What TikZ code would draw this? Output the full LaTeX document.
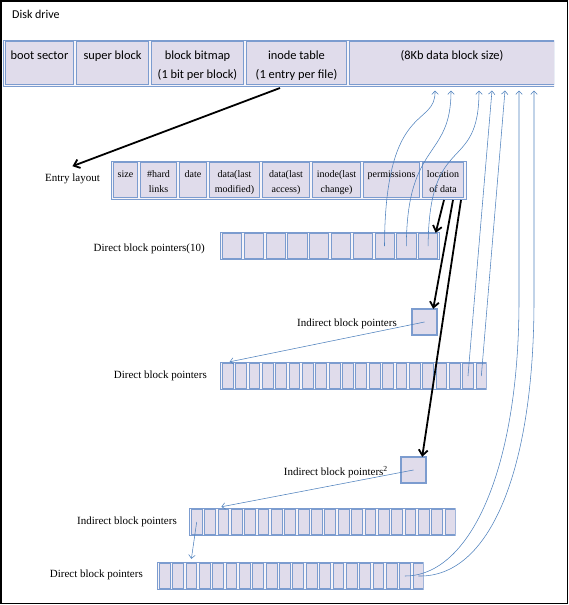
\documentclass[tikz,border=0pt]{standalone}
\usepackage{fontspec}
\setmainfont{Liberation Serif}
\newfontfamily\calfont{Carlito}
\usetikzlibrary{arrows.meta,calc}
\definecolor{lav}{HTML}{E0DCEB}
\definecolor{bcol}{HTML}{7C9CCF}
\definecolor{lcol}{HTML}{4F81BD}
\begin{document}
\begin{tikzpicture}[x=1pt,y=-1pt,
 cellbox/.style={rectangle,draw=bcol,fill=lav,line width=0.7pt,inner sep=0pt,outer sep=0pt},
 framebox/.style={draw=bcol,line width=0.7pt,fill=lav!30},
 toptxt/.style={font=\calfont\fontsize{12.4}{15}\selectfont,inner sep=0pt,anchor=base},
 etxt/.style={font=\fontsize{10}{12}\selectfont,inner sep=0pt,anchor=base},
 lbl/.style={font=\fontsize{11}{13}\selectfont,inner sep=0pt,anchor=base east},
 thinarr/.style={draw=lcol,line width=0.55pt,-{Straight Barb[length=3.5pt,width=6.5pt]}},
 blkarr/.style={draw=black,line width=1.8pt,-{Straight Barb[length=5.5pt,width=9pt]}}
]
\useasboundingbox (0,0) rectangle (569,605);
\draw[line width=1.4pt] (1,1) rectangle (567.3,603.3);

\node[anchor=base west,font=\calfont\fontsize{12}{14}\selectfont,inner sep=0pt] (dd) at (12,18.5) {Disk drive};

% top bar
\begin{scope}
\clip (0,30) rectangle (554,95);
\draw[framebox] (3.5,40) rectangle (600,86);
\foreach \a/\b/\n in {4/75/tb1,75/150/tb2,150/245/tb3,245/348/tb4,348/556/tb5}
  \node[cellbox,minimum width={(\b-\a-2.6)*1pt},minimum height=43.4pt] (\n) at ({(\a+\b)/2},63) {};
\end{scope}
\node[toptxt] (t1) at (39.5,59) {boot sector};
\node[toptxt] (t2) at (112.5,59) {super block};
\node[toptxt] (t3a) at (197.5,59) {block bitmap};
\node[toptxt] (t3b) at (197.5,78) {(1 bit per block)};
\node[toptxt] (t4a) at (296.5,59) {inode table};
\node[toptxt] (t4b) at (296.5,78) {(1 entry per file)};
\node[toptxt] (t5) at (452,59) {(8Kb data block size)};

% entry table
\draw[framebox] (111,161) rectangle (466,199);
\foreach \a/\b/\n in {112/139/c1,139/178/c2,178/208/c3,208/261/c4,261/311/c5,311/362/c6,362/421/c7,421/465/c8}
  \node[cellbox,minimum width={(\b-\a-2.6)*1pt},minimum height=35.4pt] (\n) at ({(\a+\b)/2},180) {};
\node[etxt] (e1a) at (125.5,177) {size};
\node[etxt] (e2a) at (158.5,177) {\#hard};
\node[etxt] (e2b) at (158.5,192) {links};
\node[etxt] (e3a) at (193,177) {date};
\node[etxt] (e4a) at (234.5,177) {data(last};
\node[etxt] (e4b) at (234.5,192) {modified)};
\node[etxt] (e5a) at (286,177) {data(last};
\node[etxt] (e5b) at (286,192) {access)};
\node[etxt] (e6a) at (336.5,177) {inode(last};
\node[etxt] (e6b) at (336.5,192) {change)};
\node[etxt] (e7a) at (391.5,177) {permissions};
\node[etxt] (e8a) at (443,177) {location};
\node[etxt] (e8b) at (443,192) {of data};

% array 1
\draw[framebox] (220.5,232.5) rectangle (439.5,259.5);
\foreach \i in {1,...,10}
  \node[cellbox,minimum width=19.2pt,minimum height=24.4pt] (d\i) at ({221+(\i-0.5)*21.8},246) {};

% box 1
\draw[framebox] (411.5,308.5) rectangle (437.5,335.5);
\node[cellbox,minimum width=23.4pt,minimum height=24.4pt] (bx1) at (424.5,322) {};

% array 2
\begin{scope}
\clip (0,350) rectangle (486.6,400);
\draw[framebox] (220.5,362.5) rectangle (500,389.5);
\foreach \i in {1,...,20}
  \node[cellbox,minimum width=10.75pt,minimum height=24.4pt] (e\i) at ({221+(\i-0.5)*13.35},376) {};
\end{scope}

% box 2
\draw[framebox] (400.5,456.5) rectangle (426.5,483.5);
\node[cellbox,minimum width=23.4pt,minimum height=24.4pt] (bx2) at (413.5,470) {};

% array 3
\begin{scope}
\clip (0,500) rectangle (455.6,545);
\draw[framebox] (189.5,508.5) rectangle (470,535.5);
\foreach \i in {1,...,20}
  \node[cellbox,minimum width=10.75pt,minimum height=24.4pt] (f\i) at ({190+(\i-0.5)*13.35},522) {};
\end{scope}

% array 4
\begin{scope}
\clip (0,555) rectangle (423.6,600);
\draw[framebox] (157.5,562.5) rectangle (440,589.5);
\foreach \i in {1,...,20}
  \node[cellbox,minimum width=10.75pt,minimum height=24.4pt] (g\i) at ({158+(\i-0.5)*13.35},576) {};
\end{scope}

% labels
\node[lbl] (el) at (100,181) {Entry layout};
\node[lbl] (l1) at (205,251.5) {Direct block pointers(10)};
\node[lbl] (l2) at (397,326) {Indirect block pointers};
\node[lbl] (l3) at (207,378) {Direct block pointers};
\node[lbl] (l4) at (388,475) {Indirect block pointers\textsuperscript{2}};
\node[lbl] (l5) at (177,524) {Indirect block pointers};
\node[lbl] (l6) at (143,577) {Direct block pointers};

% arrow tips below data area
\foreach \x/\n in {435/u1,451/u2,479/u3,492/u4,505/u5,519/u6,534/u7}
  \coordinate (\n) at (\x,90.5);

% thin blue connectors
\draw[thinarr] (d8.center) .. controls (385,100) and (436,128) .. (u1);
\draw[thinarr] (d9.center) .. controls (407,140) and (451,160) .. (u2);
\draw[thinarr] (d10.center) .. controls (429,130) and (479,175) .. (u3);
\draw[thinarr] (e19.center) -- (u4);
\draw[thinarr] (e20.center) -- (u5);
\draw[thinarr] (g19.center) .. controls (470,576) and (519,470) .. (519,300) -- (u6);
\draw[thinarr] (g20.center) .. controls (490,578) and (534,470) .. (534,300) -- (u7);
\draw[thinarr] (bx1.center) -- ($(e1.north)+(2,-2)$);
\draw[thinarr] (bx2.center) -- ($(f3.north)+(-2,-3)$);
\draw[thinarr] (f1.center) -- ($(g3.north)+(0,-5)$);

% black arrows
\coordinate (s0) at (280,88);
\draw[blkarr] (s0) -- ($(el.north)+(0,-7)$);
\draw[blkarr] ($(c8.south)+(1,2.3)$) -- ($(d10.north east)+(-2,-1)$);
\draw[blkarr] ($(c8.south)+(10,2.3)$) -- ($(bx1.north east)+(-3,-1)$);
\draw[blkarr] ($(c8.south)+(18,2.3)$) -- ($(bx2.north east)+(-3,-1)$);
\end{tikzpicture}
\end{document}
